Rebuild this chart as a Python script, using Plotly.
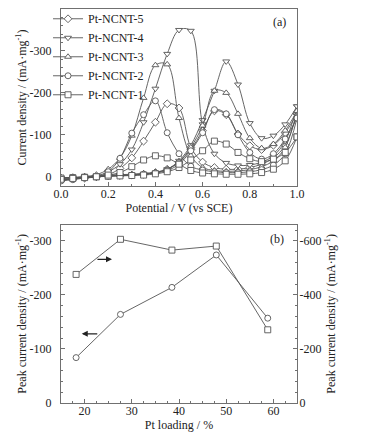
import plotly.graph_objects as go

# ---------------- data ----------------
potential = [0.00, 0.05, 0.10, 0.15, 0.20, 0.25, 0.30, 0.35, 0.40, 0.45, 0.50,
             0.55, 0.60, 0.65, 0.70, 0.75, 0.80, 0.85, 0.90, 0.95, 1.00]

series_names = ["Pt-NCNT-5", "Pt-NCNT-4", "Pt-NCNT-3", "Pt-NCNT-2", "Pt-NCNT-1"]
series_symbols = ["diamond", "triangle-down", "triangle-up", "circle", "square"]

# forward scan (0 -> 1.0 V)
fwd_5 = [3, 2, 1, 0, -2, -3, -4, -6, -10, -18, -35, -65, -110, -157, -148, -102, -74, -65, -75, -105, -150]
fwd_4 = [3, 2, 1, 0, -2, -3, -5, -7, -10, -18, -38, -75, -135, -205, -275, -220, -128, -92, -98, -125, -168]
fwd_3 = [3, 2, 0, -2, -4, -5, -6, -8, -11, -18, -35, -70, -122, -205, -200, -150, -92, -68, -78, -110, -157]
fwd_2 = [4, 2, 1, 0, -2, -3, -4, -6, -9, -15, -30, -62, -105, -160, -150, -100, -58, -42, -55, -90, -140]
fwd_1 = [3, 2, 1, 0, -1, -2, -3, -4, -7, -12, -22, -40, -62, -85, -78, -58, -43, -36, -42, -58, -95]

# backward scan (values listed at ascending potential)
bwd_5 = [8, 5, 3, 0, -5, -20, -45, -85, -130, -174, -164, -70, -35, -22, -18, -18, -22, -30, -45, -75, -150]
bwd_4 = [8, 5, 2, -2, -12, -30, -65, -130, -210, -293, -350, -348, -125, -55, -33, -27, -28, -35, -50, -85, -168]
bwd_3 = [8, 5, 0, -5, -18, -45, -98, -188, -266, -268, -140, -50, -22, -15, -13, -14, -17, -24, -38, -70, -157]
bwd_2 = [10, 7, 3, 0, -12, -44, -104, -148, -181, -105, -55, -25, -16, -12, -10, -10, -12, -17, -28, -55, -140]
bwd_1 = [6, 4, 2, 0, -4, -10, -24, -40, -50, -45, -30, -15, -9, -7, -6, -6, -7, -10, -18, -38, -95]

fwd_all = [fwd_5, fwd_4, fwd_3, fwd_2, fwd_1]
bwd_all = [bwd_5, bwd_4, bwd_3, bwd_2, bwd_1]

pt_loading = [18.2, 27.6, 38.5, 47.9, 58.8]
peak_left = [-84, -164, -214, -274, -157]     # circles, left axis
peak_right = [-476, -606, -566, -581, -271]   # squares, right axis

top_yticks = [0, -100, -200, -300]
top_yticktext = ["0", "-100", "-200", "-300"]
bl_yticks = [0, -100, -200, -300]
bl_yticktext = ["0", "-100", "-200", "-300"]
br_yticks = [0, -200, -400, -600]
br_yticktext = ["0", "-200", "-400", "-600"]

# ---------------- style ----------------
FONT = "Liberation Serif"
LC = "#555555"
AX = "#707070"
TXT = "#222222"
TF = dict(family=FONT, size=12, color=TXT)

fig = go.Figure()

for name, sym, f, b in zip(series_names, series_symbols, fwd_all, bwd_all):
    mk = dict(symbol=sym, size=6, color="white", line=dict(color=LC, width=0.9))
    ln = dict(color=LC, width=0.9, shape="spline", smoothing=1.0)
    fig.add_trace(go.Scatter(x=potential, y=f, mode="lines+markers", name=name,
                             legendgroup=name, line=ln, marker=mk, xaxis="x", yaxis="y"))
    fig.add_trace(go.Scatter(x=potential, y=b, mode="lines+markers", name=name,
                             legendgroup=name, showlegend=False, line=ln, marker=mk,
                             xaxis="x", yaxis="y"))

fig.add_trace(go.Scatter(x=pt_loading, y=peak_left, mode="lines+markers", showlegend=False,
                         line=dict(color=LC, width=0.9),
                         marker=dict(symbol="circle", size=6, color="white", line=dict(color=LC, width=0.9)),
                         xaxis="x2", yaxis="y2"))
fig.add_trace(go.Scatter(x=pt_loading, y=peak_right, mode="lines+markers", showlegend=False,
                         line=dict(color=LC, width=0.9),
                         marker=dict(symbol="square", size=6, color="white", line=dict(color=LC, width=0.9)),
                         xaxis="x2", yaxis="y3"))

axis_common = dict(showgrid=False, zeroline=False, showline=True, linecolor=AX, linewidth=1,
                   ticks="inside", ticklen=4, tickcolor=AX, automargin=False,
                   tickfont=TF)

fig.update_layout(
    width=366, height=439,
    margin=dict(l=61, r=69, t=9, b=36, autoexpand=False),
    paper_bgcolor="white", plot_bgcolor="white",
    font=TF,
    showlegend=True,
    legend=dict(x=-0.055, y=1.012, xanchor="left", yanchor="top", bgcolor="rgba(0,0,0,0)",
                font=TF, tracegroupgap=0),
    xaxis=dict(domain=[0, 1], range=[0, 1.0], anchor="y", mirror=True,
               tickvals=[0, 0.2, 0.4, 0.6, 0.8, 1.0], ticktext=["0.0", "0.2", "0.4", "0.6", "0.8", "1.0"],
               minor=dict(ticks="inside", dtick=0.1, ticklen=2, tickcolor=AX),
               ticklabelstandoff=-3,
               title=dict(text="Potential / V (vs SCE)", font=TF, standoff=0),
               **axis_common),
    yaxis=dict(domain=[0.5508, 1], range=[22, -400], anchor="x", mirror=True,
               tickvals=top_yticks, ticktext=top_yticktext,
               minor=dict(ticks="inside", dtick=20, ticklen=2, tickcolor=AX),
               ticklabelstandoff=6,
               title=dict(text="Current density / (mA·mg<sup>-1</sup>)", font=TF, standoff=0),
               **axis_common),
    xaxis2=dict(domain=[0, 1], range=[15, 65], anchor="y2", mirror=True,
                tickvals=[20, 30, 40, 50, 60],
                minor=dict(ticks="inside", dtick=2.5, ticklen=2, tickcolor=AX),
                ticklabelstandoff=-3,
                title=dict(text="Pt loading / %", font=TF, standoff=0),
                **axis_common),
    yaxis2=dict(domain=[0, 0.4525], range=[0, -330], anchor="x2",
                tickvals=bl_yticks, ticktext=bl_yticktext,
                minor=dict(ticks="inside", dtick=20, ticklen=2, tickcolor=AX),
                ticklabelstandoff=6,
                title=dict(text="Peak current density / (mA·mg<sup>-1</sup>)", font=TF, standoff=0),
                **axis_common),
    yaxis3=dict(range=[0, -660], overlaying="y2", side="right", anchor="x2",
                tickvals=br_yticks, ticktext=br_yticktext,
                minor=dict(ticks="inside", dtick=40, ticklen=2, tickcolor=AX),
                ticklabelstandoff=-1,
                title=dict(text="Peak current density / (mA·mg<sup>-1</sup>)", font=TF, standoff=6),
                **axis_common),
    annotations=[
        dict(text="(a)", x=0.925, y=-368, xref="x", yref="y", showarrow=False, font=TF),
        dict(text="(b)", x=60.8, y=-303, xref="x2", yref="y2", showarrow=False, font=TF),
        dict(text="", x=19.4, y=-128, ax=23.0, ay=-128, xref="x2", yref="y2", axref="x2", ayref="y2",
             showarrow=True, arrowhead=2, arrowsize=1, arrowwidth=1.2, arrowcolor="#222222"),
        dict(text="", x=25.8, y=-266, ax=22.4, ay=-266, xref="x2", yref="y2", axref="x2", ayref="y2",
             showarrow=True, arrowhead=2, arrowsize=1, arrowwidth=1.2, arrowcolor="#222222"),
    ],
)

fig.write_html("out.html", config={"displayModeBar": False},
               post_script="document.body.style.margin='0';")
